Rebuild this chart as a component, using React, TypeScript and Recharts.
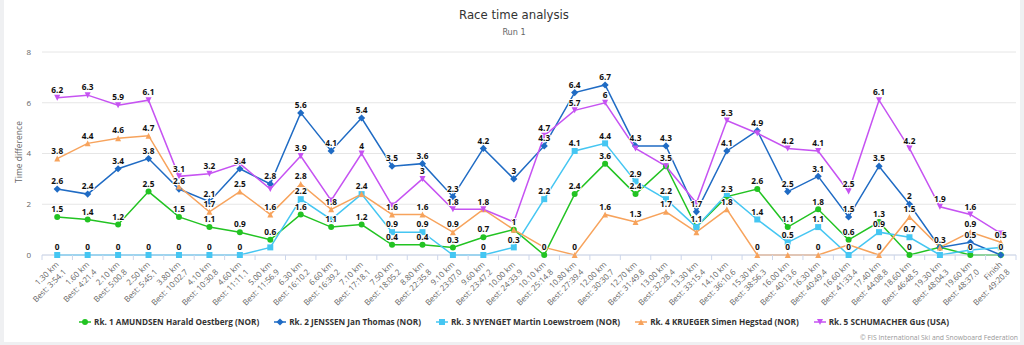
import React from 'react';
import { LineChart, Line, XAxis, YAxis, CartesianGrid, LabelList } from 'recharts';

const distances = ['1.30 km','1.60 km','2.10 km','2.50 km','3.80 km','4.10 km','4.60 km','5.00 km','6.30 km','6.60 km','7.10 km','7.50 km','8.80 km','9.10 km','9.60 km','10.00 km','10.10 km','10.80 km','12.00 km','12.70 km','13.00 km','13.30 km','14.10 km','15.30 km','16.00 km','16.30 km','16.60 km','17.40 km','18.60 km','19.30 km','19.60 km','Finish'];
const bestTimes = ['Best: 3:54.1','Best: 4:21.4','Best: 5:00.8','Best: 5:45.1','Best: 10:02.7','Best: 10:30.8','Best: 11:11.1','Best: 11:56.9','Best: 16:10.2','Best: 16:39.2','Best: 17:18.1','Best: 18:05.2','Best: 22:35.8','Best: 23:07.0','Best: 23:47.2','Best: 24:33.9','Best: 25:14.8','Best: 27:39.4','Best: 30:30.7','Best: 31:49.8','Best: 32:28.4','Best: 33:15.4','Best: 36:10.6','Best: 38:56.3','Best: 40:13.6','Best: 40:49.4','Best: 41:33.4','Best: 44:08.8','Best: 46:48.5','Best: 48:04.3','Best: 48:37.0','Best: 49:20.8'];

const amundsen = [1.5,1.4,1.2,2.5,1.5,1.1,0.9,0.6,1.6,1.1,1.2,0.4,0.4,0.3,0.7,1,0,2.4,3.6,2.4,3.5,1.1,2.3,2.6,1.1,1.8,0.6,1.3,0,0.3,0,0];
const jenssen = [2.6,2.4,3.4,3.8,2.6,2.1,3.4,2.8,5.6,4.1,5.4,3.5,3.6,2.3,4.2,3,4.3,6.4,6.7,4.3,4.3,1.7,4.1,4.9,2.5,3.1,1.5,3.5,2,0.3,0.5,0];
const nyenget = [0,0,0,0,0,0,0,0.3,2.2,1.4,2.4,0.9,0.9,0,0,0.3,2.2,4.1,4.4,2.9,2.2,1.1,2.4,1.4,0.5,1.1,0,0.9,0.7,0,0.2,0.3];
const krueger = [3.8,4.4,4.6,4.7,2.7,1.7,2.5,1.6,2.8,1.8,2.4,1.6,1.6,0.9,1.8,1,0.3,0,1.6,1.3,1.7,0.9,1.8,0,0,0,0.4,0,1.5,0.3,0.9,0.5];
const schumacher = [6.2,6.3,5.9,6.1,3.1,3.2,3.6,2.6,3.9,2.15,4,1.95,3,1.8,1.8,1.3,4.7,5.7,6,4.2,3.5,2.05,5.3,4.8,4.2,4.1,2.5,6.1,4.2,1.9,1.6,0.85];

const seriesNames = [
  'Rk. 1 AMUNDSEN Harald Oestberg (NOR)',
  'Rk. 2 JENSSEN Jan Thomas (NOR)',
  'Rk. 3 NYENGET Martin Loewstroem (NOR)',
  'Rk. 4 KRUEGER Simen Hegstad (NOR)',
  'Rk. 5 SCHUMACHER Gus (USA)',
];
const seriesValues = [amundsen, jenssen, nyenget, krueger, schumacher];
const seriesColors = ['#22c322', '#1f6bc4', '#45c6f2', '#f7a35c', '#c653f2'];
const seriesShapes = ['circle', 'diamond', 'square', 'triangle', 'triangle-down'];
const yTicks = [0, 2, 4, 6, 8];

const W = 1024;
const H = 345;
const M = { top: 52, right: 8, left: 12, bottom: 0 };
const Y_AXIS_W = 30;
const X_AXIS_H = 90;
const PLOT_W = W - M.left - Y_AXIS_W - M.right;
const PLOT_H = H - M.top - X_AXIS_H - M.bottom;
const N = distances.length;
const STEP = PLOT_W / N;
const PX_PER_UNIT = PLOT_H / yTicks[yTicks.length - 1];
const FONT = "'Open Sans', 'DejaVu Sans', sans-serif";

const data = distances.map((d, i) => {
  const row: any = { cat: d, best: bestTimes[i] };
  seriesValues.forEach((vals, s) => { row['s' + s] = vals[i]; });
  return row;
});

// hide overlapping data labels: earlier series win
const labelVisible: boolean[][] = seriesValues.map(() => new Array(N).fill(false));
for (let i = 0; i < N; i++) {
  const shown: number[] = [];
  seriesValues.forEach((vals, s) => {
    const v = vals[i];
    if (shown.every((w) => Math.abs(v - w) * PX_PER_UNIT >= 10)) {
      labelVisible[s][i] = true;
      shown.push(v);
    }
  });
}

function Marker({ shape, cx, cy, color }: any) {
  if (cx == null || cy == null) return null;
  const r = 3;
  if (shape === 'circle') return <circle cx={cx} cy={cy} r={r} fill={color} />;
  if (shape === 'square') return <rect x={cx - r} y={cy - r} width={2 * r} height={2 * r} fill={color} />;
  if (shape === 'diamond') {
    const d = 3.6;
    return <polygon points={`${cx},${cy - d} ${cx + d},${cy} ${cx},${cy + d} ${cx - d},${cy}`} fill={color} />;
  }
  if (shape === 'triangle')
    return <polygon points={`${cx},${cy - r} ${cx + r},${cy + r} ${cx - r},${cy + r}`} fill={color} />;
  return <polygon points={`${cx - r},${cy - r} ${cx + r},${cy - r} ${cx},${cy + r}`} fill={color} />;
}

function XTick(props: any) {
  const { x, y, payload } = props;
  const idx = payload.index;
  const ax = x + 2;
  const ay = y + 10;
  return (
    <g>
      <line x1={x - STEP / 2} x2={x - STEP / 2} y1={y} y2={y + 5} stroke="#ccd6eb" />
      {idx === N - 1 && <line x1={x + STEP / 2} x2={x + STEP / 2} y1={y} y2={y + 5} stroke="#ccd6eb" />}
      <text x={ax} y={ay} transform={`rotate(-45 ${ax} ${ay})`} textAnchor="end" fontSize={8} fill="#666" fontFamily={FONT}>
        <tspan x={ax} dy={0}>{distances[idx]}</tspan>
        <tspan x={ax} dy={10.5}>{bestTimes[idx]}</tspan>
      </text>
    </g>
  );
}

function makeLabel(s: number) {
  return (p: any) => {
    const { x, y, index, value } = p;
    if (!labelVisible[s][index]) return null;
    const txt = String(Math.round(Number(value) * 10) / 10);
    return (
      <text key={`l${s}-${index}`} x={x} y={y - 4.8} textAnchor="middle" fontSize={8.3} fontWeight="bold"
        fill="#111" stroke="#fff" strokeWidth={2} paintOrder="stroke" strokeLinejoin="round" fontFamily={FONT}>
        {txt}
      </text>
    );
  };
}

function LegendIcon({ shape, color }: any) {
  return (
    <svg width={12} height={10} style={{ display: 'block' }}>
      <line x1={0} x2={12} y1={5} y2={5} stroke={color} strokeWidth={1.5} />
      <Marker shape={shape} cx={6} cy={5} color={color} />
    </svg>
  );
}

export default function App() {
  return (
    <div style={{ position: 'absolute', left: 0, top: 0, width: W, height: H, background: '#eff0f2', overflow: 'hidden' }}>
      <div style={{ position: 'absolute', left: 4, top: 0, width: 1016, height: 342, background: '#fff' }} />
      <div style={{ position: 'absolute', left: 0, top: 0 }}>
        <LineChart width={W} height={H} data={data} margin={M}>
          <CartesianGrid horizontal vertical={false} stroke="#e6e6e6" />
          <XAxis dataKey="cat" interval={0} tick={<XTick />} tickLine={false} tickSize={0} tickMargin={0}
            axisLine={{ stroke: '#ccd6eb' }} height={X_AXIS_H} padding={{ left: STEP / 2, right: STEP / 2 }} />
          <YAxis domain={[0, 8]} ticks={yTicks} axisLine={false} tickLine={false} width={Y_AXIS_W} tickMargin={5}
            tick={{ fontSize: 8, fill: '#666', fontFamily: FONT }} />
          {seriesValues.map((_, s) => (
            <Line key={s} dataKey={'s' + s} name={seriesNames[s]} stroke={seriesColors[s]} strokeWidth={1.5}
              isAnimationActive={false} type="linear"
              dot={(p: any) => <Marker key={`d${s}-${p.index}`} shape={seriesShapes[s]} cx={p.cx} cy={p.cy} color={seriesColors[s]} />}
              activeDot={false}>
              <LabelList dataKey={'s' + s} content={makeLabel(s)} />
            </Line>
          ))}
        </LineChart>
      </div>
      <svg width={W} height={H} style={{ position: 'absolute', left: 0, top: 0, pointerEvents: 'none' }}>
        <text x={514} y={19} textAnchor="middle" fontSize={13} fill="#333"
          fontFamily="'Liberation Sans Narrow', 'DejaVu Sans Condensed', sans-serif">Race time analysis</text>
        <text x={514} y={35} textAnchor="middle" fontSize={9} fill="#666"
          fontFamily="'Liberation Sans Narrow', 'DejaVu Sans Condensed', sans-serif">Run 1</text>
        <text x={18} y={152} transform="rotate(-90 18 152)" textAnchor="middle" dominantBaseline="central" fontSize={8.5} fill="#666" fontFamily={FONT}>Time difference</text>
        <text x={1018} y={340} textAnchor="end" fontSize={6.8} fill="#999" fontFamily={FONT}>© FIS International Ski and Snowboard Federation</text>
      </svg>
      <div style={{ position: 'absolute', left: 0, top: 316, width: 1028, display: 'flex', justifyContent: 'center', gap: 15, fontFamily: FONT, fontSize: 8.2, fontWeight: 'bold', color: '#333', lineHeight: '12px' }}>
        {seriesNames.map((n, s) => (
          <div key={s} style={{ display: 'flex', alignItems: 'center', gap: 3, whiteSpace: 'nowrap' }}>
            <LegendIcon shape={seriesShapes[s]} color={seriesColors[s]} />
            <span>{n}</span>
          </div>
        ))}
      </div>
    </div>
  );
}
